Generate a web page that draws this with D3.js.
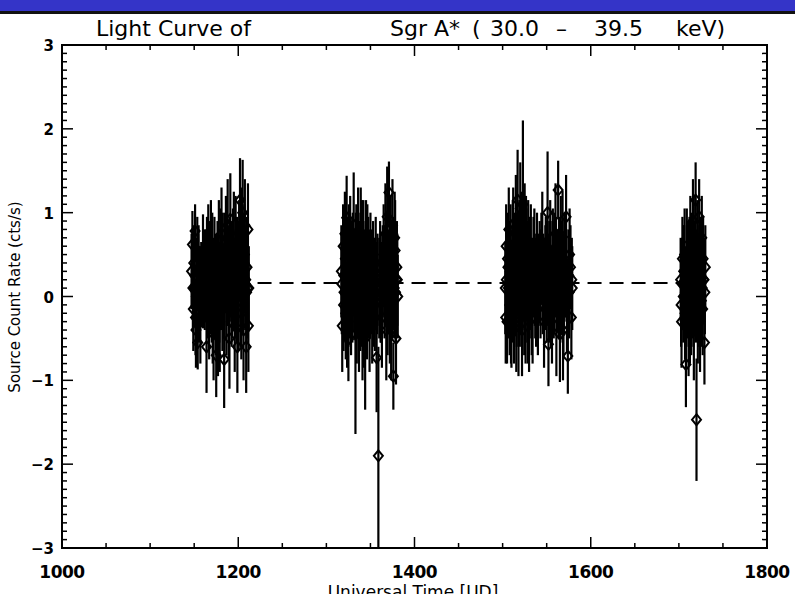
<!DOCTYPE html>
<html><head><meta charset="utf-8">
<script src="https://cdn.jsdelivr.net/npm/d3@7"></script>
<style>body{margin:0;background:#fff}svg{display:block}</style>
</head><body>
<svg id="c" width="795" height="594"></svg>
<script>
// ---- data ----
const xTicks = [1000, 1200, 1400, 1600, 1800];
const yTicks = [-3, -2, -1, 0, 1, 2, 3];
const meanRate = 0.16;

const time1 = [1147,1148,1149,1150,1151,1152,1153,1154,1155,1156,1157,1158,1160,1163,1164,1166,1167,1169,1170,1172,1173,1175,1176,1178,1179,1181,1182,1184,1185,1187,1188,1190,1191,1193,1194,1196,1197,1199,1200,1202,1203,1204,1205,1206,1207,1208,1209,1210,1211,1212];
const rate1 = [0.3,0.62,-0.15,0.1,0.78,-0.4,0.2,-0.55,0.45,0.0,-0.3,0.15,0.3,0.25,-0.6,0.5,-0.2,0.6,0.05,-0.45,0.35,-0.7,0.15,0.55,-0.3,0.75,-0.05,-0.75,0.4,0.2,0.85,-0.5,0.92,0.1,0.45,-0.35,0.6,-0.6,0.3,1.15,0.0,0.7,1.0,-0.4,0.5,0.15,-0.6,0.35,0.8,0.1];
const err1  = [0.45,0.4,0.5,0.45,0.32,0.45,0.5,0.32,0.4,0.45,0.5,0.5,0.68,0.55,0.55,0.6,0.55,0.55,0.6,0.55,0.6,0.5,0.6,0.6,0.6,0.55,0.6,0.58,0.6,0.55,0.55,0.6,0.55,0.6,0.6,0.55,0.6,0.55,0.6,0.5,0.6,0.6,0.63,0.6,0.6,0.55,0.55,0.6,0.55,0.5];
const time1b = [1149.5,1151.5,1153.5,1155.5,1165,1168,1171,1174,1177,1180,1183,1186,1189,1192,1195,1198,1201,1203.5,1205.5,1207.5,1209.5,1211.5];
const rate1b = [0.4,-0.25,0.55,-0.1,0.1,0.35,-0.2,0.2,-0.35,0.45,0.05,0.65,-0.15,0.3,0.7,0.05,0.55,-0.2,0.3,0.85,0.05,-0.35];
const err1b  = [0.45,0.45,0.4,0.45,0.6,0.55,0.6,0.55,0.6,0.6,0.55,0.55,0.6,0.6,0.55,0.6,0.6,0.55,0.6,0.55,0.6,0.55];
const time1c = [1148.5,1150.5,1152.5,1154.5,1156.5,1162,1164.5,1166.5,1168.5,1170.5,1172.5,1174.5,1176.5,1178.5,1180.5,1182.5,1184.5,1186.5,1188.5,1190.5,1192.5,1194.5,1196.5,1198.5,1200.5,1202.5,1204.5,1206.5,1208.5,1210.5];
const rate1c = [0.1,0.25,0.0,0.3,0.1,0.2,0.35,-0.05,0.15,0.4,0.1,-0.1,0.3,0.05,0.2,0.4,0.1,-0.1,0.25,0.35,0.0,0.2,0.1,0.35,-0.05,0.25,0.15,0.4,0.2,0.1];
const err1c  = [0.5,0.5,0.5,0.45,0.5,0.6,0.6,0.6,0.6,0.6,0.6,0.6,0.6,0.6,0.6,0.6,0.6,0.6,0.6,0.6,0.6,0.6,0.6,0.6,0.6,0.6,0.6,0.6,0.6,0.6];

const time2 = [1317,1318,1319,1320,1321,1322,1323,1324,1325,1326,1327,1328,1329,1331,1333,1334,1335,1336,1337,1338,1339,1340,1341,1342,1343,1344,1345,1346,1347,1348,1349,1350,1351,1352,1353,1355,1356,1357,1359,1360,1361,1363,1365,1366,1367,1368,1369,1370,1371,1372,1373,1374,1375,1376,1377,1378,1379,1380,1381];
const rate2 = [0.3,-0.35,0.6,0.05,0.75,-0.2,0.94,0.4,-0.51,0.15,0.65,-0.1,0.3,0.85,-0.45,0.5,0.1,0.7,-0.3,0.35,0.75,0.0,-0.4,0.55,0.2,-0.5,0.6,-0.15,0.3,0.05,-0.35,0.45,0.15,-0.2,0.3,-0.1,0.4,-0.73,-1.9,0.1,0.35,-0.25,0.5,0.05,0.75,-0.4,0.95,0.2,1.24,-0.2,0.6,0.3,0.85,-0.95,0.1,0.55,-0.5,0.35,0.0];
const err2  = [0.55,0.55,0.5,0.55,0.5,0.55,0.5,0.55,0.5,0.6,0.55,0.6,0.6,0.63,1.19,0.6,0.6,0.6,0.6,0.55,0.55,0.6,0.6,0.6,0.6,0.85,0.55,0.6,0.6,0.55,0.55,0.55,0.6,0.6,0.6,0.55,0.55,0.65,1.3,0.6,0.55,0.6,0.6,0.55,0.6,0.6,0.6,0.6,0.37,0.6,0.6,0.6,0.55,0.4,0.6,0.6,0.55,0.55,0.5];
const time2b = [1319.5,1321.5,1323.5,1325.5,1327.5,1330,1332,1334.5,1336.5,1338.5,1340.5,1342.5,1344.5,1346.5,1348.5,1354,1358,1362,1364,1367.5,1369.5,1371.5,1373.5,1375.5,1377.5,1379.5];
const rate2b = [-0.1,0.45,-0.3,0.55,0.0,0.4,0.1,-0.2,0.45,-0.05,0.6,-0.25,0.3,0.55,0.2,0.15,0.2,0.05,0.3,0.25,-0.1,0.5,-0.4,0.15,0.7,0.2];
const err2b  = [0.55,0.55,0.55,0.55,0.6,0.6,0.6,0.6,0.55,0.6,0.55,0.6,0.6,0.55,0.6,0.55,0.55,0.6,0.55,0.6,0.6,0.6,0.6,0.55,0.55,0.55];
const time2c = [1317.5,1319.7,1321.7,1323.7,1325.7,1327.7,1329.5,1331.5,1333.5,1335.5,1337.5,1339.5,1341.5,1343.5,1345.5,1347.5,1349.5,1351.5,1353.5,1355.5,1357.5,1361.5,1363.5,1366.5,1368.5,1370.5,1372.5,1374.5,1376.5,1378.5,1380.5];
const rate2c = [0.15,0.25,0.05,0.3,0.1,0.35,0.05,0.2,0.4,0.15,0.3,0.1,0.25,0.0,0.2,0.35,0.1,0.2,0.0,0.15,0.1,0.0,0.2,0.25,0.4,0.15,0.3,0.1,0.35,0.05,0.2];
const err2c  = [0.6,0.6,0.6,0.6,0.6,0.6,0.6,0.6,0.6,0.6,0.6,0.6,0.6,0.6,0.6,0.6,0.6,0.6,0.6,0.55,0.55,0.55,0.55,0.6,0.6,0.6,0.6,0.6,0.6,0.6,0.55];

const time3 = [1503,1504,1505,1506,1507,1508,1509,1510,1511,1512,1513,1514,1515,1516,1517,1518,1519,1520,1521,1522,1523,1524,1525,1526,1527,1528,1529,1530,1531,1532,1533,1535,1537,1539,1540,1542,1543,1545,1546,1547,1549,1550,1551,1552,1553,1554,1556,1557,1558,1560,1561,1563,1564,1565,1566,1567,1568,1569,1570,1572,1574,1575,1576,1578,1579];
const rate3 = [0.1,0.6,-0.3,0.35,0.8,-0.1,0.5,-0.45,0.25,0.7,-0.2,0.4,0.9,0.0,1.15,-0.35,0.55,1.05,0.15,-0.4,1.1,0.3,0.75,-0.2,0.45,0.05,0.6,-0.3,0.2,0.5,-0.1,0.35,0.1,0.45,-0.15,0.3,0.05,0.65,0.2,-0.3,0.4,0.0,1.0,-0.57,0.3,0.55,-0.2,0.45,0.1,0.75,-0.35,1.27,0.35,-0.45,0.6,0.15,0.71,-0.15,0.4,0.95,-0.71,0.25,0.5,-0.25,0.1];
const err3  = [0.55,0.5,0.5,0.55,0.5,0.6,0.6,0.4,0.6,0.6,0.6,0.6,0.55,0.6,0.6,0.6,0.6,0.55,0.6,0.55,1.0,0.6,0.6,0.6,0.6,0.6,0.55,0.6,0.6,0.6,0.6,0.6,0.6,0.55,0.55,0.6,0.55,0.6,0.55,0.55,0.55,0.55,0.73,0.5,0.6,0.6,0.6,0.6,0.6,0.6,0.6,0.35,0.6,0.57,0.6,0.6,0.55,0.6,0.6,0.5,0.45,0.55,0.55,0.5,0.5];
const time3b = [1503.5,1505.5,1507.5,1509.5,1511.5,1513.5,1515.5,1517.5,1519.5,1521.5,1524.5,1526.5,1528.5,1530.5,1532.5,1534,1536,1538,1541,1544,1548,1550.5,1555,1559,1562,1565.5,1568.5,1571,1573,1577];
const rate3b = [-0.25,0.45,0.15,-0.2,0.55,0.2,-0.3,0.4,0.0,0.65,-0.1,0.6,-0.2,0.4,0.1,-0.25,0.5,-0.05,0.2,0.45,0.15,0.35,0.0,0.4,0.2,0.05,-0.4,0.3,-0.1,0.35];
const err3b  = [0.55,0.55,0.6,0.6,0.6,0.6,0.6,0.6,0.6,0.6,0.6,0.6,0.6,0.55,0.6,0.55,0.55,0.55,0.55,0.55,0.55,0.55,0.6,0.6,0.6,0.6,0.6,0.55,0.55,0.5];
const time3c = [1504.2,1506.5,1508.5,1510.5,1512.5,1514.5,1516.5,1518.5,1520.5,1522.5,1523.5,1525.5,1527.5,1529.5,1531.5,1533.5,1536.5,1539.5,1542.5,1545.5,1548.5,1551.5,1553.5,1556.5,1558.5,1560.5,1563.5,1566.5,1569.5,1572.5,1575.5,1578.5];
const rate3c = [0.2,0.1,0.3,0.05,0.35,0.15,0.4,0.1,0.3,0.2,0.45,0.05,0.3,0.15,0.35,0.1,0.2,0.15,0.25,0.1,0.3,0.2,0.05,0.3,0.15,0.35,0.1,0.3,0.15,0.25,0.05,0.2];
const err3c  = [0.6,0.6,0.6,0.6,0.6,0.6,0.6,0.6,0.6,0.6,0.6,0.6,0.6,0.6,0.6,0.6,0.55,0.55,0.55,0.55,0.55,0.55,0.6,0.6,0.6,0.6,0.6,0.6,0.6,0.55,0.55,0.5];

const time4 = [1702,1703,1704,1705,1706,1707,1708,1709,1710,1711,1712,1713,1714,1715,1716,1717,1718,1719,1720,1721,1722,1723,1724,1725,1726,1727,1728,1729,1730];
const rate4 = [0.2,-0.3,0.45,0.0,0.3,-0.2,-0.81,0.5,0.1,-0.35,0.35,0.65,-0.1,0.25,0.9,-0.4,0.15,1.15,-1.47,0.55,0.0,0.95,-0.3,0.4,0.7,-0.15,0.2,-0.55,0.35];
const err4  = [0.5,0.55,0.5,0.55,0.55,0.55,0.51,0.55,0.6,0.6,0.6,0.55,0.6,0.6,0.5,0.6,0.6,0.45,0.73,0.6,0.6,0.45,0.6,0.55,0.5,0.55,0.5,0.5,0.5];
const time4b = [1702.5,1704.5,1706.5,1708.5,1710.5,1712.5,1714.5,1716.5,1718.5,1721.5,1723.5,1725.5,1727.5,1729.5];
const rate4b = [-0.1,0.15,0.5,-0.05,0.3,-0.2,0.4,0.0,0.6,-0.2,0.25,-0.05,0.45,0.05];
const err4b  = [0.5,0.55,0.55,0.55,0.6,0.6,0.6,0.6,0.6,0.6,0.6,0.55,0.5,0.5];
const time4c = [1703.5,1705.5,1707.5,1709.5,1711.5,1713.5,1715.5,1717.5,1719.5,1720.5,1722.5,1724.5,1726.5,1728.5];
const rate4c = [0.15,0.3,0.05,0.2,0.1,0.25,0.1,0.3,0.05,0.2,0.15,0.3,0.1,0.2];
const err4c  = [0.55,0.55,0.55,0.6,0.6,0.6,0.6,0.6,0.6,0.6,0.6,0.6,0.55,0.5];

// ---- build table ----
const times = [...time1, ...time1b, ...time1c, ...time2, ...time2b, ...time2c, ...time3, ...time3b, ...time3c, ...time4, ...time4b, ...time4c];
const rates = [...rate1, ...rate1b, ...rate1c, ...rate2, ...rate2b, ...rate2c, ...rate3, ...rate3b, ...rate3c, ...rate4, ...rate4b, ...rate4c];
const errs  = [...err1, ...err1b, ...err1c, ...err2, ...err2b, ...err2c, ...err3, ...err3b, ...err3c, ...err4, ...err4b, ...err4c];
const pts = times.map((t, i) => ({t, r: rates[i], e: errs[i]}));

const svg = d3.select("#c");
const W = 795, H = 594;
const m = {l: 62, r: 767, t: 45, b: 548};

// header bar
svg.append("rect").attr("x",0).attr("y",0).attr("width",W).attr("height",11).attr("fill","#3434c8");
svg.append("rect").attr("x",0).attr("y",11).attr("width",W).attr("height",3).attr("fill","#111");

const x = d3.scaleLinear().domain([1000, 1800]).range([m.l, m.r]);
const y = d3.scaleLinear().domain([-3, 3]).range([m.b, m.t]);

const defs = svg.append("defs");
defs.append("clipPath").attr("id","clip").append("rect")
  .attr("x", m.l).attr("y", m.t).attr("width", m.r - m.l).attr("height", m.b - m.t);

const plot = svg.append("g").attr("clip-path","url(#clip)");

// mean dashed line
plot.append("line")
  .attr("x1", x(d3.min(times))).attr("x2", x(d3.max(times)))
  .attr("y1", y(meanRate)).attr("y2", y(meanRate))
  .attr("stroke","#000").attr("stroke-width",2).attr("stroke-dasharray","14,8");

// error bars
plot.append("g").selectAll("line").data(pts).join("line")
  .attr("x1", d => x(d.t)).attr("x2", d => x(d.t))
  .attr("y1", d => y(d.r - d.e)).attr("y2", d => y(d.r + d.e))
  .attr("stroke","#000").attr("stroke-width",2.2);

// diamonds (open)
const sx = 4.5, sy = 5.5;
plot.append("g").selectAll("path").data(pts).join("path")
  .attr("d", d => { const cx = x(d.t), cy = y(d.r);
    return `M${cx},${cy-sy}L${cx+sx},${cy}L${cx},${cy+sy}L${cx-sx},${cy}Z`; })
  .attr("fill","none").attr("stroke","#000").attr("stroke-width",2);

// axes box
const ax = svg.append("g").attr("stroke","#000").attr("fill","none");
ax.append("rect").attr("x", m.l).attr("y", m.t).attr("width", m.r - m.l).attr("height", m.b - m.t)
  .attr("stroke-width", 2);

// x ticks (major every 200, minor every 50)
const xMinor = d3.range(1000, 1801, 50);
xMinor.forEach(v => {
  const major = xTicks.includes(v);
  const len = major ? 11 : 5;
  ax.append("line").attr("x1", x(v)).attr("x2", x(v)).attr("y1", m.b).attr("y2", m.b - len).attr("stroke-width",1.5);
  ax.append("line").attr("x1", x(v)).attr("x2", x(v)).attr("y1", m.t).attr("y2", m.t + len).attr("stroke-width",1.5);
});
// y ticks (major every 1, minor every 0.1)
const yMinor = d3.range(-30, 31).map(v => v / 10);
yMinor.forEach(v => {
  const major = Math.abs(v - Math.round(v)) < 1e-9;
  const len = major ? 11 : 5;
  ax.append("line").attr("x1", m.l).attr("x2", m.l + len).attr("y1", y(v)).attr("y2", y(v)).attr("stroke-width",1.5);
  ax.append("line").attr("x1", m.r).attr("x2", m.r - len).attr("y1", y(v)).attr("y2", y(v)).attr("stroke-width",1.5);
});

// tick labels
const lab = svg.append("g").attr("font-family","'DejaVu Sans', sans-serif").attr("fill","#000");
lab.selectAll(".xl").data(xTicks).join("text")
  .attr("x", d => x(d)).attr("y", 578).attr("text-anchor","middle")
  .attr("font-size",17).attr("font-weight","bold").attr("letter-spacing","-0.5")
  .text(d => d);
lab.selectAll(".yl").data(yTicks).join("text")
  .attr("x", m.l - 8).attr("y", d => y(d) + 6).attr("text-anchor","end")
  .attr("font-size",15).attr("font-weight","bold")
  .text(d => d < 0 ? "\u2212" + Math.abs(d) : d);

// titles
const tf = 22;
lab.append("text").attr("x", 96).attr("y", 36).attr("font-size",tf).text("Light Curve of");
const t2 = lab.append("text").attr("y", 36).attr("font-size",tf);
[["Sgr A*",390],["(",472],["30.0",490],["\u2013",556],["39.5",594],["keV)",676]].forEach(([s,px]) =>
  t2.append("tspan").attr("x", px).text(s));
lab.append("text").attr("x", 413).attr("y", 598).attr("text-anchor","middle").attr("font-size",17)
  .text("Universal Time [UD]");
lab.append("text").attr("transform","translate(20,297) rotate(-90)").attr("text-anchor","middle")
  .attr("font-size",15).text("Source Count Rate (cts/s)");
</script>
</body></html>
